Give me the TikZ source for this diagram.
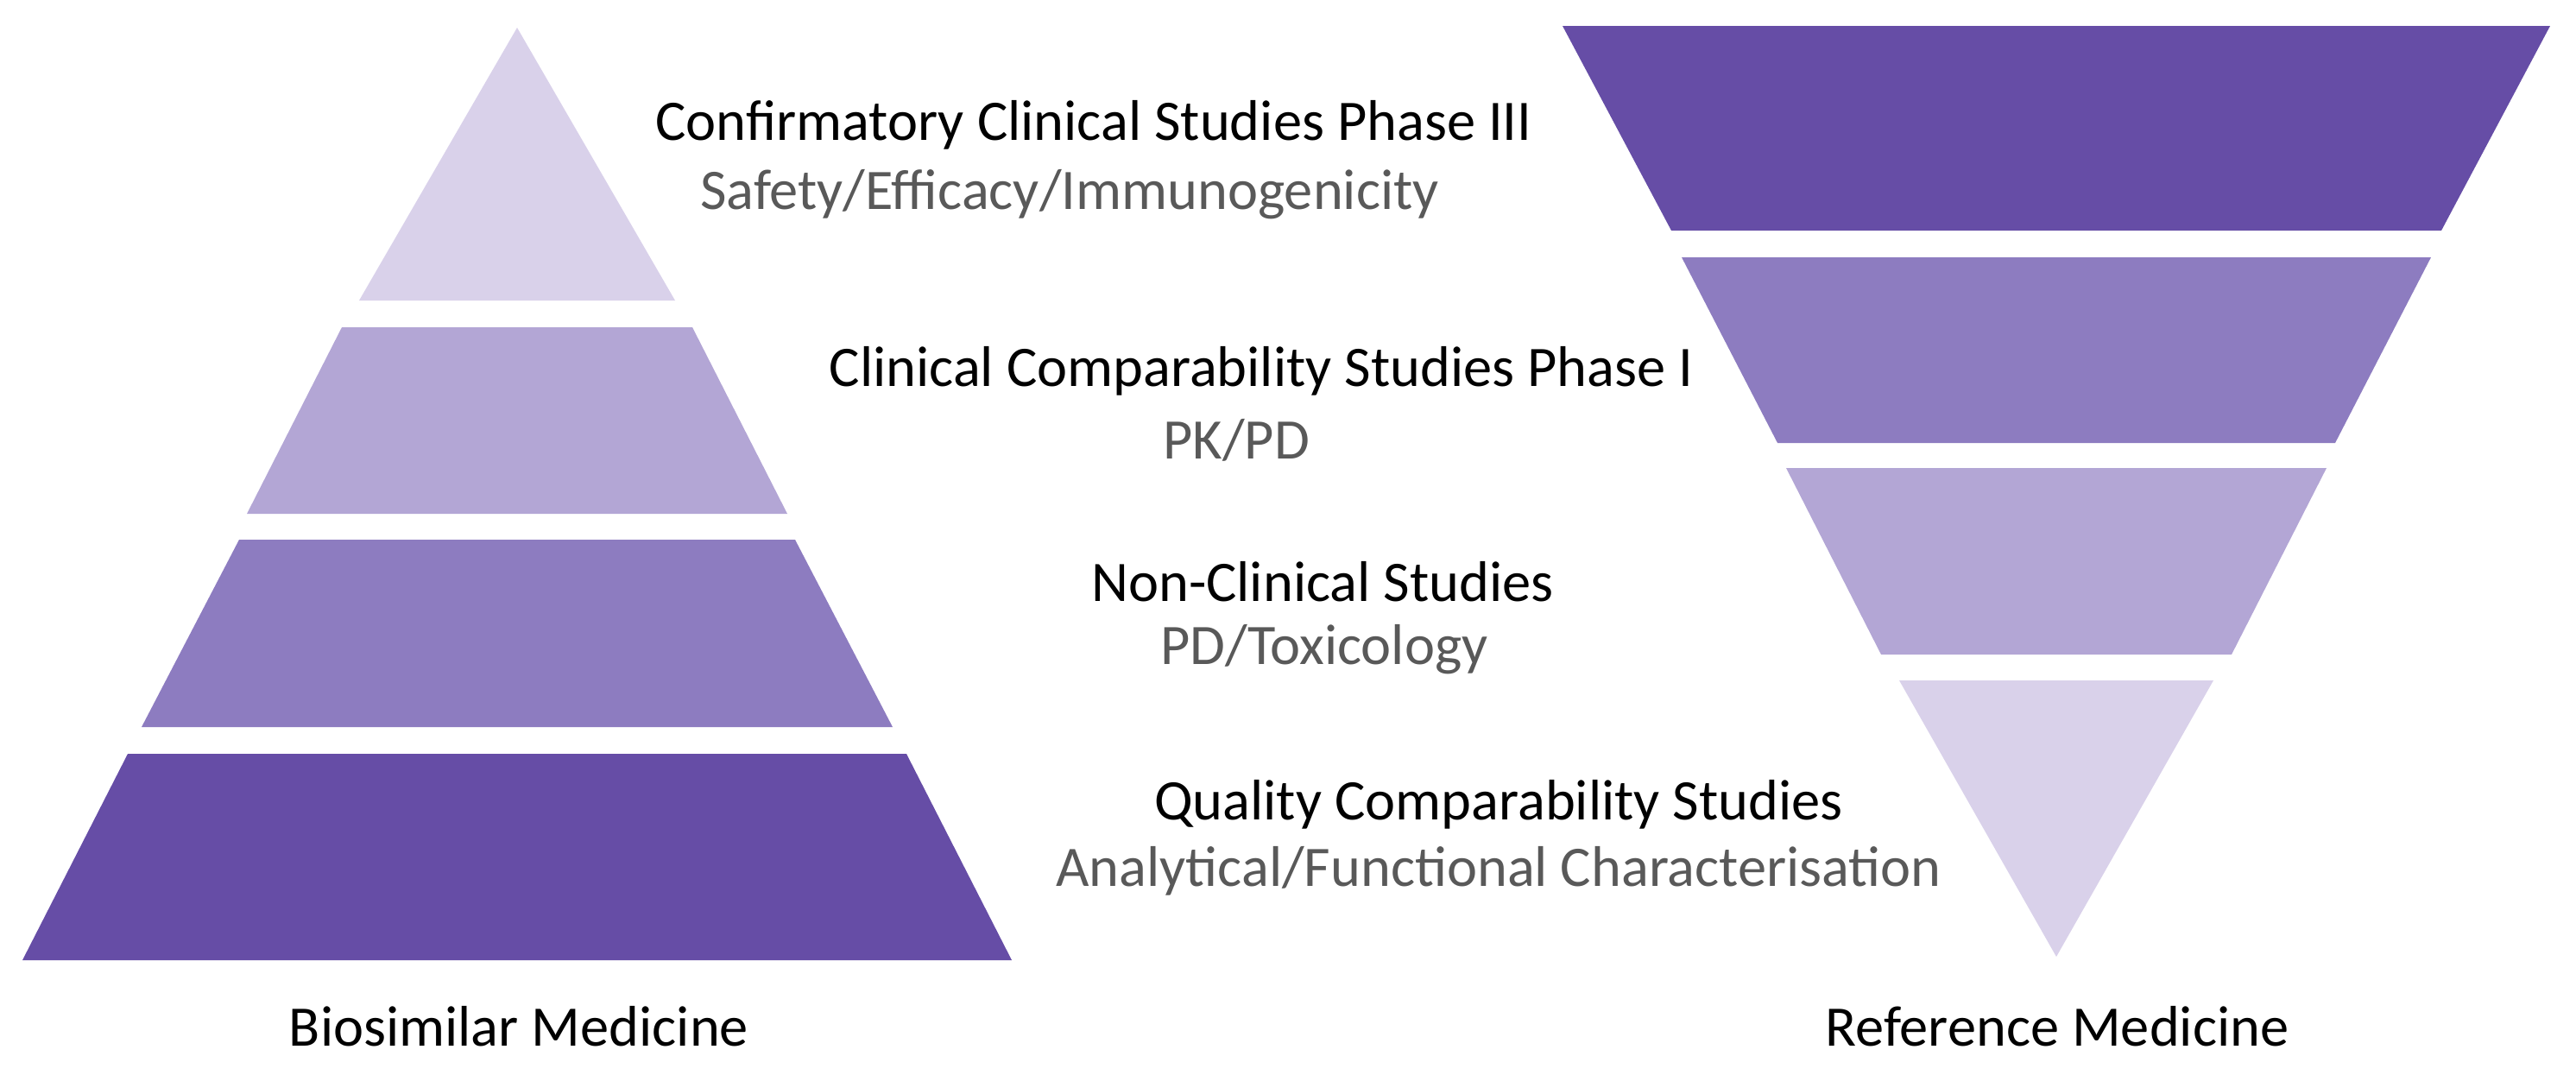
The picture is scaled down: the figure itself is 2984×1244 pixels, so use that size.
\documentclass[tikz,border=0pt]{standalone}
\usepackage{fontspec}
\setmainfont{Carlito}
\definecolor{pA}{HTML}{D9D1EA}
\definecolor{pB}{HTML}{B3A6D5}
\definecolor{pC}{HTML}{8D7CC0}
\definecolor{pD}{HTML}{664DA6}
\definecolor{subgray}{HTML}{595959}
\begin{document}
\begin{tikzpicture}[x=0.25pt,y=-0.25pt,
  title/.style={inner sep=0pt, font=\fontsize{16.6}{20}\selectfont, text=black},
  subt/.style={title, text=subgray}]
\useasboundingbox (0,0) rectangle (2984,1244);
% left pyramid
\fill[pA] (599,32) -- (782,348) -- (416,348) -- cycle;
\fill[pB] (396,379) -- (802,379) -- (912,595) -- (286,595) -- cycle;
\fill[pC] (277,625) -- (921,625) -- (1034,842) -- (164,842) -- cycle;
\fill[pD] (148,873) -- (1050,873) -- (1172,1112) -- (26,1112) -- cycle;
% right inverted pyramid
\fill[pD] (1810,30) -- (2954,30) -- (2828,267) -- (1936,267) -- cycle;
\fill[pC] (1948,298) -- (2816,298) -- (2705,513) -- (2059,513) -- cycle;
\fill[pB] (2069,542) -- (2695,542) -- (2585,758) -- (2179,758) -- cycle;
\fill[pA] (2200,788) -- (2564,788) -- (2382,1108) -- cycle;
% texts
\node[title] (t1) at (1267,145) {Confirmatory Clinical Studies Phase III};
\node[subt] (s1) at (1239,225) {Safety/Efficacy/Immunogenicity};
\node[title] (t2) at (1461,430) {Clinical Comparability Studies Phase I};
\node[subt] (s2) at (1432,510) {PK/PD};
\node[title] (t3) at (1532,674) {Non-Clinical Studies};
\node[subt] (s3) at (1534,752) {PD/Toxicology};
\node[title] (t4) at (1736,932) {Quality Comparability Studies};
\node[subt] (s4) at (1736,1009) {Analytical/Functional Characterisation};
\node[title] (bm) at (601,1189) {Biosimilar Medicine};
\node[title] (rm) at (2383,1189) {Reference Medicine};
\end{tikzpicture}
\end{document}
